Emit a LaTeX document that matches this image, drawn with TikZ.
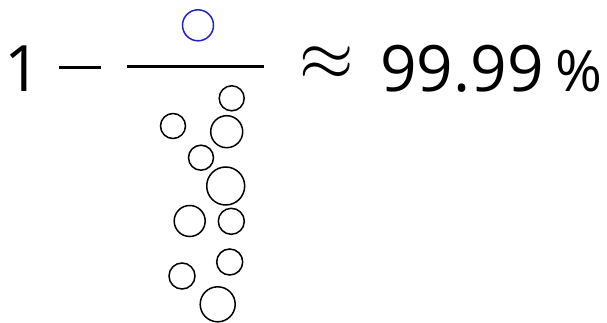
\documentclass[tikz,border=0pt]{standalone}
\usepackage{fontspec}
\setmainfont{Open Sans}
\definecolor{dropblue}{RGB}{35,35,195}
\tikzset{
  bubble/.style={draw=black, circle, line width=1.5pt, inner sep=0pt, minimum size=#1},
  bignum/.style={inner sep=0pt, anchor=base west, font=\fontsize{64}{64}\selectfont},
  smallsign/.style={inner sep=0pt, anchor=base west, font=\fontsize{57}{57}\selectfont}
}
\begin{document}
\begin{tikzpicture}[x=1pt, y=-1pt]
  \useasboundingbox (0,0) rectangle (607,323);
  % ---------- left side: 1 - fraction ----------
  \node[bignum] (one) at (4,91.5) {1};
  \node[inner sep=0pt] (minus) at (80,67.7) {\rule{42pt}{2.6pt}};
  \draw[line width=2.6pt] (127,66.7) coordinate (barL) -- (264,66.7) coordinate (barR);
  \node[bubble=31pt, draw=dropblue] (top) at (198,25.3) {};
  % ---------- bubbles below the bar ----------
  \foreach \x/\y/\d/\n in {231.7/98.3/25/b1, 173/126/25/b2, 226.7/131.7/32/b3,
      201/157.7/25/b4, 225.7/186/38/b5, 189.7/221/31/b6, 231.3/221.3/26/b7,
      229.7/262/26/b8, 182/276/26/b9, 217.7/304.3/35/b10}
    \node[bubble=\d pt] (\n) at (\x,\y) {};
  % ---------- right side ----------
  \node[inner sep=0pt, anchor=base west, scale=7] (approx) at (298,80.5) {$\approx$};
  \node[bignum] (value) at (380,91.5) {99.99};
  \node[smallsign] (pct) at (555,91.5) {\%};
\end{tikzpicture}
\end{document}
